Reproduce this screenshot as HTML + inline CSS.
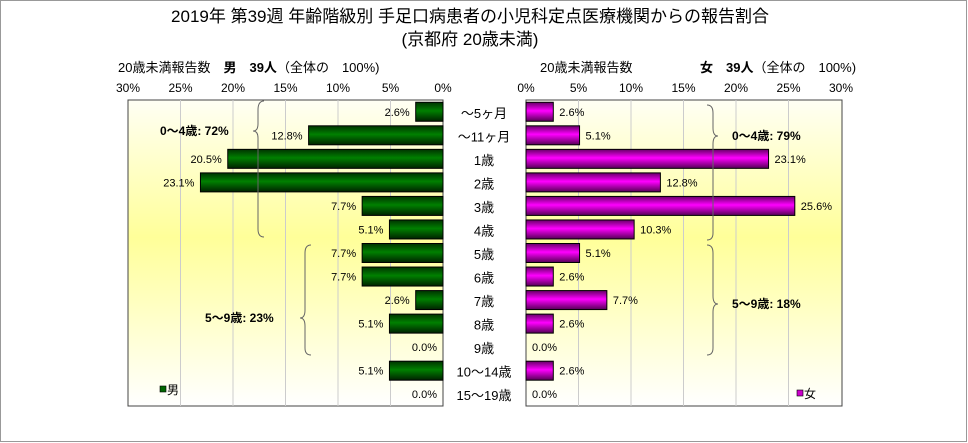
<!DOCTYPE html>
<html><head><meta charset="utf-8"><style>
body{margin:0;background:#fff;}
svg{display:block;font-family:"Liberation Sans","Noto Sans CJK JP",sans-serif;}
</style></head><body>
<svg id="chart" width="968" height="443" viewBox="0 0 968 443">
<defs>
<linearGradient id="bg" x1="0" y1="0" x2="0" y2="1">
<stop offset="0" stop-color="#fffff4"/><stop offset="0.45" stop-color="#ffff99"/><stop offset="1" stop-color="#ffffff"/>
</linearGradient>
<linearGradient id="gm" x1="0" y1="0" x2="0" y2="1">
<stop offset="0" stop-color="#003300"/><stop offset="0.45" stop-color="#008000"/><stop offset="1" stop-color="#002200"/>
</linearGradient>
<linearGradient id="gf" x1="0" y1="0" x2="0" y2="1">
<stop offset="0" stop-color="#660066"/><stop offset="0.45" stop-color="#ff00ff"/><stop offset="1" stop-color="#550055"/>
</linearGradient>
</defs>
<rect x="0.5" y="0.5" width="966" height="441" fill="#fff" stroke="#999"/>
<text x="470" y="22" font-size="17" text-anchor="middle">2019年 第39週 年齢階級別 手足口病患者の小児科定点医療機関からの報告割合</text>
<text x="470" y="45" font-size="17" text-anchor="middle">(京都府 20歳未満)</text>
<text x="118" y="72" font-size="13">20歳未満報告数　<tspan font-weight="bold">男　39人</tspan>（全体の　100%)</text>
<text x="540" y="72" font-size="13">20歳未満報告数</text>
<text x="700" y="72" font-size="13"><tspan font-weight="bold">女　39人</tspan>（全体の　100%)</text>
<rect x="128" y="100" width="315" height="306" fill="url(#bg)" stroke="#444"/>
<rect x="526" y="100" width="316" height="306" fill="url(#bg)" stroke="#444"/>
<g id="grid"></g><g id="bars"></g><g id="labels"></g>
<g stroke="#666" fill="none" stroke-width="1">
<path d="M264,101 Q258,101 258,110 L258,124 Q258,131 253,131 Q258,131 258,138 L258,229 Q258,237 264,237"/>
<path d="M311,245 Q305,245 305,253 L305,310 Q305,318 300,318 Q305,318 305,326 L305,348 Q305,355 311,355"/>
<path d="M707,105 Q713,105 713,113 L713,128 Q713,136 718,136 Q713,136 713,144 L713,233 Q713,240 707,240"/>
<path d="M707,245 Q713,245 713,253 L713,296 Q713,304 718,304 Q713,304 713,312 L713,348 Q713,355 707,355"/>
</g>
<text x="160" y="135" font-size="12" font-weight="bold">0～4歳: 72%</text>
<text x="205" y="322" font-size="12" font-weight="bold">5～9歳: 23%</text>
<text x="732" y="140" font-size="12" font-weight="bold">0～4歳: 79%</text>
<text x="732" y="308" font-size="12" font-weight="bold">5～9歳: 18%</text>
<rect x="160" y="386" width="6" height="6" fill="#006600" stroke="#000" stroke-width="0.6"/>
<text x="167" y="394" font-size="12">男</text>
<rect x="797" y="390" width="6" height="6" fill="#cc00cc" stroke="#000" stroke-width="0.6"/>
<text x="804" y="398" font-size="12">女</text>
</svg>
<script>
const categories=["～5ヶ月","～11ヶ月","1歳","2歳","3歳","4歳","5歳","6歳","7歳","8歳","9歳","10～14歳","15～19歳"];
const maleValues=[2.6,12.8,20.5,23.1,7.7,5.1,7.7,7.7,2.6,5.1,0,5.1,0];
const femaleValues=[2.6,5.1,23.1,12.8,25.6,10.3,5.1,2.6,7.7,2.6,0,2.6,0];
const tickValues=[0,5,10,15,20,25,30];
const NS="http://www.w3.org/2000/svg";
const L0=443,R0=526,PX=315/30,TOP=100,ROW=306/13,BH=19;
const xm=v=>L0-v*PX, xf=v=>R0+v*PX, yr=i=>TOP+i*ROW;
function mk(t,a,p){const e=document.createElementNS(NS,t);for(const k in a)e.setAttribute(k,a[k]);p.appendChild(e);return e;}
const grid=document.getElementById('grid'),bars=document.getElementById('bars'),lab=document.getElementById('labels');
tickValues.forEach(v=>{
 if(v>0&&v<30){
  const g1=mk('line',{x1:xm(v),x2:xm(v),y1:TOP,y2:TOP+306,stroke:'#ccc'},grid);
  
  
  const g2=mk('line',{x1:xf(v),x2:xf(v),y1:TOP,y2:TOP+306,stroke:'#ccc'},grid);
  
  
 }
 const t1=mk('text',{x:xm(v),y:92,'font-size':12,'text-anchor':'middle'},lab);t1.textContent=v+'%';
 
 
 const t2=mk('text',{x:xf(v),y:92,'font-size':12,'text-anchor':'middle'},lab);t2.textContent=v+'%';
 
 
});
categories.forEach((c,i)=>{
 const cy=yr(i)+ROW/2, y=cy-BH/2;
 const m=maleValues[i], f=femaleValues[i];
 if(m>0){const b=mk('rect',{x:xm(m),y:y,width:m*PX,height:BH,fill:'url(#gm)',stroke:'#000'},bars);
  
  }
 if(f>0){const b=mk('rect',{x:R0,y:y,width:f*PX,height:BH,fill:'url(#gf)',stroke:'#000'},bars);
  
  }
 const tm=mk('text',{x:xm(m)-6,y:cy+4,'font-size':11,'text-anchor':'end'},lab);tm.textContent=m.toFixed(1)+'%';
 
 
 const tf=mk('text',{x:xf(f)+6,y:cy+4,'font-size':11},lab);tf.textContent=f.toFixed(1)+'%';
 
 
 const tc=mk('text',{x:484,y:cy+6,'font-size':13,'text-anchor':'middle'},lab);tc.textContent=c;
 
 
});
</script>
</body></html>
